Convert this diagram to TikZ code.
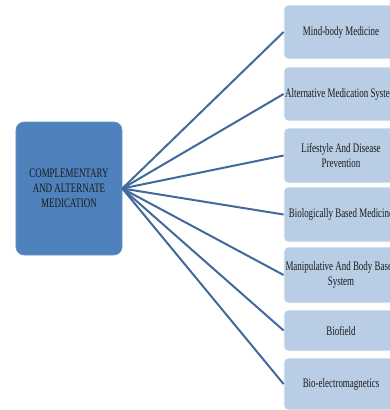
\documentclass[tikz,border=0pt]{standalone}
\usepackage{fontspec}
\setmainfont[FakeStretch=0.69]{Liberation Serif}
\definecolor{mainblue}{HTML}{4F81BD}
\definecolor{lightblue}{HTML}{B9CDE5}
\definecolor{linkblue}{HTML}{41699B}
\definecolor{txt}{HTML}{1A1A1A}
\begin{document}
\begin{tikzpicture}[x=1bp,y=-1bp,
  centerbox/.style={draw=mainblue!85!white, line width=0.6bp, fill=mainblue, rounded corners=8bp,
    minimum width=106bp, minimum height=133bp, inner sep=0pt, align=center, text=txt,
    font=\fontsize{13}{15}\selectfont},
  leafbox/.style={draw=white, line width=0.8bp, fill=lightblue, rounded corners=4bp,
    minimum width=114bp, inner sep=0pt, align=center, text=txt,
    font=\fontsize{13}{15}\selectfont},
  link/.style={draw=linkblue, line width=2bp}]
\useasboundingbox (0,0) rectangle (390,410);
\begin{scope}
\clip (0,0) rectangle (390,410);
\node[centerbox] (c) at (69,188.5) {COMPLEMENTARY\\AND ALTERNATE\\MEDICATION};
\node[leafbox, minimum height=54bp] (b1) at (341,32) {Mind-body Medicine};
\node[leafbox, minimum height=54bp] (b2) at (341,94) {Alternative Medication System};
\node[leafbox, minimum height=55bp] (b3) at (341,155.5) {Lifestyle And Disease\\Prevention};
\node[leafbox, minimum height=55bp] (b4) at (341,214.5) {Biologically Based Medicine};
\node[leafbox, minimum height=56bp] (b5) at (341,275) {Manipulative And Body Based\\System};
\node[leafbox, minimum height=41bp] (b6) at (341,330.5) {Biofield};
\node[leafbox, minimum height=52bp] (b7) at (341,384) {Bio-electromagnetics};
\foreach \i in {1,...,7} {
  \draw[link] (c.east) -- (b\i.west);
}
\end{scope}
\end{tikzpicture}
\end{document}
